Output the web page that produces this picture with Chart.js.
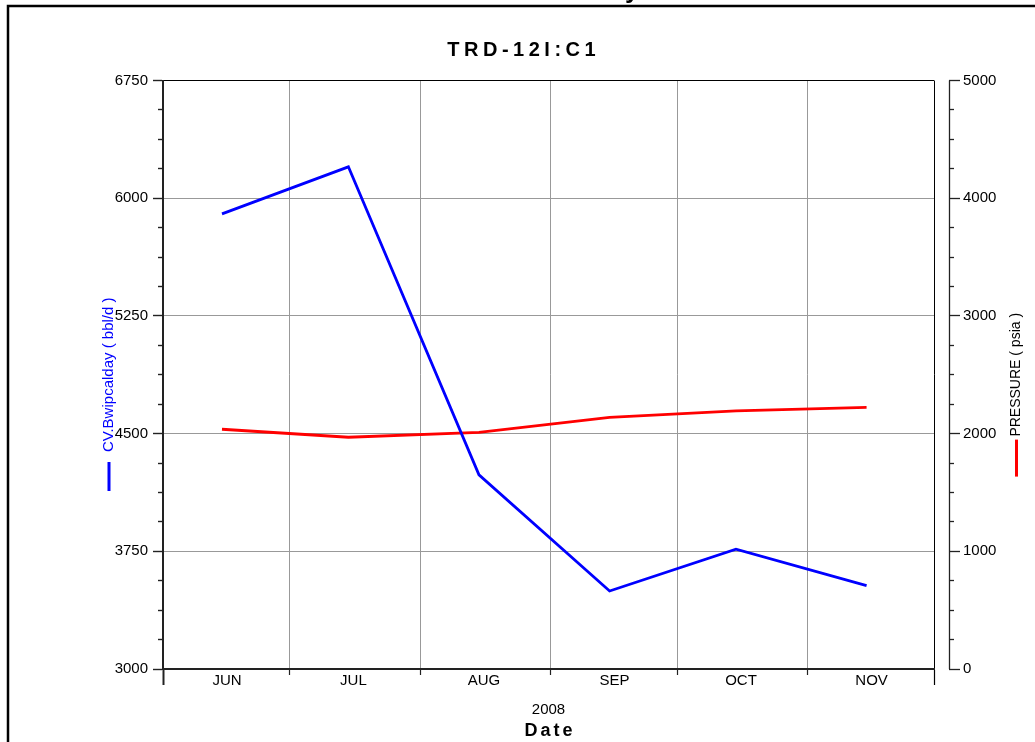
<!DOCTYPE html>
<html>
<head>
<meta charset="utf-8">
<script src="https://cdn.jsdelivr.net/npm/chart.js@4.4.1/dist/chart.umd.min.js"></script>
<style>
  html, body { margin: 0; padding: 0; background: #fff; }
  #wrap { width: 1035px; height: 742px; position: relative; background: #fff; }
</style>
</head>
<body>
<div id="wrap"><canvas id="c"></canvas></div>
<script>
// ---- data ----
const chartTitle = 'TRD-12I:C1';
const months = ['JUN', 'JUL', 'AUG', 'SEP', 'OCT', 'NOV'];
const monthStarts = ['2008-06-01', '2008-07-01', '2008-08-01', '2008-09-01', '2008-10-01', '2008-11-01', '2008-12-01'];
const sampleDates = ['2008-06-15', '2008-07-15', '2008-08-15', '2008-09-15', '2008-10-15', '2008-11-15'];
const waterRate = [5900, 6200, 4237, 3497, 3763, 3531];   // bbl/d
const pressure = [2037, 1969, 2010, 2137, 2193, 2222];    // psia
const rateTicks = [3000, 3750, 4500, 5250, 6000, 6750];
const pressureTicks = [0, 1000, 2000, 3000, 4000, 5000];
const minorSteps = 4;
const yearLabel = '2008';
const xTitle = 'Date';
const rateTitle = 'CV.Bwipcalday ( bbl/d )';
const pressureTitle = 'PRESSURE ( psia )';

// ---- helpers ----
const FONT = "'Liberation Sans', Arial, Helvetica, sans-serif";
const DAY0 = Date.parse(monthStarts[0] + 'T00:00:00Z');
const toDay = s => (Date.parse(s + 'T00:00:00Z') - DAY0) / 86400000;
const monthDays = monthStarts.map(toDay);

function withMinors(majors, n) {
  const out = [];
  for (let i = 0; i < majors.length - 1; i++) {
    const step = (majors[i + 1] - majors[i]) / n;
    for (let k = 0; k < n; k++) out.push(majors[i] + step * k);
  }
  out.push(majors[majors.length - 1]);
  return out;
}
const rateAll = withMinors(rateTicks, minorSteps);
const pressureAll = withMinors(pressureTicks, minorSteps);

function spacedText(ctx, text, cx, y, spacing) {
  const chars = [...text];
  const widths = chars.map(ch => ctx.measureText(ch).width);
  const total = widths.reduce((s, w) => s + w, 0) + spacing * (chars.length - 1);
  let x = cx - total / 2;
  ctx.textAlign = 'left';
  chars.forEach((ch, i) => { ctx.fillText(ch, x, y); x += widths[i] + spacing; });
}

// frame, headings, right axis line, series keys
const decorations = {
  id: 'decorations',
  afterDraw(chart) {
    const { ctx, scales } = chart;
    const y = scales.y, y2 = scales.y2, x = scales.x;
    const midY = (y.top + y.bottom) / 2;
    ctx.save();

    // page frame
    ctx.strokeStyle = '#000';
    ctx.lineWidth = 2.5;
    ctx.beginPath();
    ctx.moveTo(8, 742); ctx.lineTo(8, 6); ctx.lineTo(1035, 6);
    ctx.stroke();

    // tail of the heading above the frame
    ctx.fillStyle = '#000';
    ctx.font = `bold 26px ${FONT}`;
    ctx.textBaseline = 'alphabetic';
    ctx.textAlign = 'left';
    ctx.fillText('y', 625, -2.5);

    // chart title
    ctx.font = `bold 20px ${FONT}`;
    spacedText(ctx, chartTitle, 521.5, 56, 4.5);

    // x axis heading
    ctx.font = `bold 18px ${FONT}`;
    spacedText(ctx, xTitle, (x.left + x.right) / 2, 736, 3);

    // right axis line, set apart from the plot
    const ax = Math.round(y2.left + 15) + 0.5;
    ctx.strokeStyle = '#222';
    ctx.lineWidth = 1.3;
    ctx.beginPath();
    ctx.moveTo(ax, y2.getPixelForValue(pressureTicks[pressureTicks.length - 1]));
    ctx.lineTo(ax, y2.getPixelForValue(pressureTicks[0]));
    ctx.stroke();

    // right axis title, reading upward
    ctx.font = `14px ${FONT}`;
    const wR = ctx.measureText(pressureTitle).width;
    const rx = 1016;
    ctx.save();
    ctx.translate(rx, midY);
    ctx.rotate(-Math.PI / 2);
    ctx.textAlign = 'center';
    ctx.textBaseline = 'middle';
    ctx.fillStyle = '#000';
    ctx.fillText(pressureTitle, 0, 0);
    ctx.restore();
    // red key under it
    ctx.strokeStyle = '#ff0000';
    ctx.lineWidth = 3;
    ctx.beginPath();
    ctx.moveTo(rx + 0.5, midY + wR / 2 + 3);
    ctx.lineTo(rx + 0.5, midY + wR / 2 + 40);
    ctx.stroke();

    // blue key under the left title
    ctx.font = `15px ${FONT}`;
    const wL = ctx.measureText(rateTitle).width;
    const lx = y.left + y.options.title.padding.top + 9;
    ctx.strokeStyle = '#0000ff';
    ctx.beginPath();
    ctx.moveTo(lx, midY + wL / 2 + 10);
    ctx.lineTo(lx, midY + wL / 2 + 39);
    ctx.stroke();

    ctx.restore();
  }
};

const last = monthDays.length - 1;

new Chart(document.getElementById('c'), {
  type: 'line',
  data: {
    datasets: [
      {
        label: rateTitle,
        data: sampleDates.map((d, i) => ({ x: toDay(d), y: waterRate[i] })),
        yAxisID: 'y',
        borderColor: '#0000ff',
        borderWidth: 2.8,
        pointRadius: 0,
        tension: 0,
        fill: false
      },
      {
        label: pressureTitle,
        data: sampleDates.map((d, i) => ({ x: toDay(d), y: pressure[i] })),
        yAxisID: 'y2',
        borderColor: '#ff0000',
        borderWidth: 2.8,
        pointRadius: 0,
        tension: 0,
        fill: false
      }
    ]
  },
  options: {
    responsive: true,
    maintainAspectRatio: false,
    animation: false,
    events: [],
    layout: { padding: { top: 80.5, left: 0, right: 0, bottom: 0 } },
    plugins: {
      legend: { display: false },
      tooltip: { enabled: false },
      title: { display: false }
    },
    scales: {
      x: {
        type: 'linear',
        position: 'bottom',
        min: monthDays[0],
        max: monthDays[last],
        afterBuildTicks: s => { s.ticks = monthDays.map(v => ({ value: v })); },
        afterFit: s => { s.height = 73; },
        ticks: {
          autoSkip: false,
          maxRotation: 0,
          padding: -13,
          labelOffset: 64,
          color: '#000',
          font: { family: FONT, size: 15 },
          callback: (v, i) => months[i] ?? ''
        },
        grid: {
          color: c => c.index === 0 ? 'rgba(0,0,0,0)' : (c.index === last ? '#000' : '#999'),
          lineWidth: 1,
          tickLength: 16,
          tickColor: c => c.index === last ? '#000' : '#222',
          tickWidth: c => c.index === 0 ? 2 : 1.2,
          tickBorderDash: c => (c.index === 0 || c.index === last) ? [] : [5, 30]
        },
        border: { display: true, color: '#222', width: 2 },
        title: {
          display: true,
          text: yearLabel,
          color: '#000',
          font: { family: FONT, size: 15 },
          padding: { top: 0, bottom: 23 }
        }
      },
      y: {
        type: 'linear',
        position: 'left',
        min: rateTicks[0],
        max: rateTicks[rateTicks.length - 1],
        afterBuildTicks: s => { s.ticks = rateAll.map(v => ({ value: v })); },
        afterFit: s => { s.width = 163; },
        ticks: {
          autoSkip: false,
          padding: 5,
          color: '#000',
          font: { family: FONT, size: 15 },
          callback: v => rateTicks.includes(v) ? String(v) : ''
        },
        grid: {
          color: c => {
            const v = c.tick.value;
            if (v === rateTicks[rateTicks.length - 1]) return '#000';
            if (v === rateTicks[0] || !rateTicks.includes(v)) return 'rgba(0,0,0,0)';
            return '#999';
          },
          lineWidth: 1,
          tickLength: 10,
          tickColor: '#222',
          tickWidth: 1.4,
          // minor ticks: only the half next to the axis line is inked
          tickBorderDash: c => rateTicks.includes(c.tick.value) ? [] : [5, 5],
          tickBorderDashOffset: c => rateTicks.includes(c.tick.value) ? 0 : 5
        },
        border: { display: true, color: '#222', width: 2 },
        title: {
          display: true,
          text: rateTitle,
          color: '#0000ff',
          font: { family: FONT, size: 15 },
          padding: { top: 100, bottom: 0 }
        }
      },
      y2: {
        type: 'linear',
        position: 'right',
        min: pressureTicks[0],
        max: pressureTicks[pressureTicks.length - 1],
        afterBuildTicks: s => { s.ticks = pressureAll.map(v => ({ value: v })); },
        afterFit: s => { s.width = 101; },
        ticks: {
          autoSkip: false,
          padding: 3,
          color: '#000',
          font: { family: FONT, size: 15 },
          callback: v => pressureTicks.includes(v) ? String(v) : ''
        },
        grid: {
          drawOnChartArea: false,
          tickLength: 26,
          tickColor: '#222',
          tickWidth: 1.3,
          tickBorderDash: c => pressureTicks.includes(c.tick.value) ? [11, 15] : [5, 15],
          tickBorderDashOffset: c => pressureTicks.includes(c.tick.value) ? 11 : 5
        },
        border: { display: false },
        title: { display: false }
      }
    }
  },
  plugins: [decorations]
});
</script>
</body>
</html>
